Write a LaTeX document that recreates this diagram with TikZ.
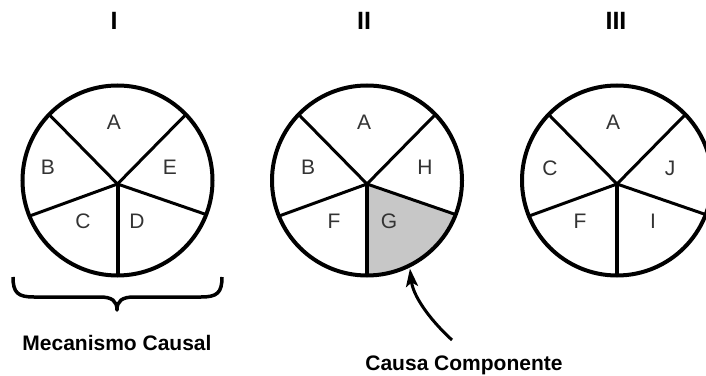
\documentclass[tikz,border=0pt]{standalone}
\usepackage{fontspec}
\setmainfont{Liberation Sans}
\usetikzlibrary{calc,arrows.meta}
\begin{document}
\begin{tikzpicture}[x=1pt,y=1pt,
  rim/.style={line width=4pt},
  spoke/.style={line width=3pt},
  stem/.style={line width=4pt},
  gfill/.style={fill=black!22},
  seg/.style={font=\fontsize{21}{21}\selectfont, text=black!80, inner sep=0pt},
  numeral/.style={font=\bfseries\fontsize{25}{25}\selectfont, inner sep=0pt},
  caption/.style={font=\bfseries\fontsize{21}{21}\selectfont, inner sep=0pt, anchor=base},
  brace/.style={line width=3.5pt, line join=round},
  pointer/.style={line width=3pt, -{Stealth[length=18pt,width=12pt,inset=4pt]}}]
\useasboundingbox (0,0) rectangle (706,375);

% wheel centres and hubs
\foreach \n/\x in {1/117.5, 2/367, 3/617} {
  \coordinate (c\n) at (\x,194.5);
  \coordinate (h\n) at (\x,191);
}

% shaded component G
\fill[gfill] (h2) -- ($(c2)+(270:95pt)$) arc[start angle=270, end angle=339, radius=95pt] -- cycle;

% spokes and rims
\foreach \n in {1,2,3} {
  \foreach \a in {44,136,202,339}
    \draw[spoke] (h\n) -- ($(c\n)+(\a:95pt)$);
  \draw[stem] (h\n) -- ($(c\n)+(270:95pt)$);
  \draw[rim] (c\n) circle[radius=95pt];
}

% numerals
\node[numeral] (n1) at (114,354) {I};
\node[numeral] (n2) at (364,354) {II};
\node[numeral] (n3) at (616,354) {III};

% segment letters, wheel I
\node[seg] (a1) at (114,253) {A};
\node[seg] (b1) at (48,208) {B};
\node[seg] (e1) at (170,208) {E};
\node[seg] (cc1) at (83,154) {C};
\node[seg] (d1) at (137,154) {D};
% wheel II
\node[seg] (a2) at (364,253) {A};
\node[seg] (b2) at (308,208) {B};
\node[seg] (hh2) at (425,208) {H};
\node[seg] (f2) at (334,154) {F};
\node[seg] (g2) at (389,154) {G};
% wheel III
\node[seg] (a3) at (613,253) {A};
\node[seg] (cc3) at (550,207) {C};
\node[seg] (j3) at (670,207) {J};
\node[seg] (f3) at (580,154) {F};
\node[seg] (i3) at (653,154) {I};

% brace under wheel I
\draw[brace] (13,98) .. controls (13,82) and (18,78) .. (34,78) -- (100,78)
  .. controls (112,78) and (117,74) .. (117,65)
  .. controls (117,74) and (122,78) .. (134,78) -- (201,78)
  .. controls (217,78) and (222,82) .. (222,98);

% captions
\node[caption] (mech) at (117,25) {Mecanismo Causal};
\node[caption] (comp) at (464,5) {Causa Componente};

% pointer to component G
\coordinate (tail) at (452,35);
\coordinate (gtip) at ($(c2)+(-64:98pt)$);
\draw[pointer] (tail) .. controls (428,57) and (413,80) .. (gtip);
\end{tikzpicture}
\end{document}
